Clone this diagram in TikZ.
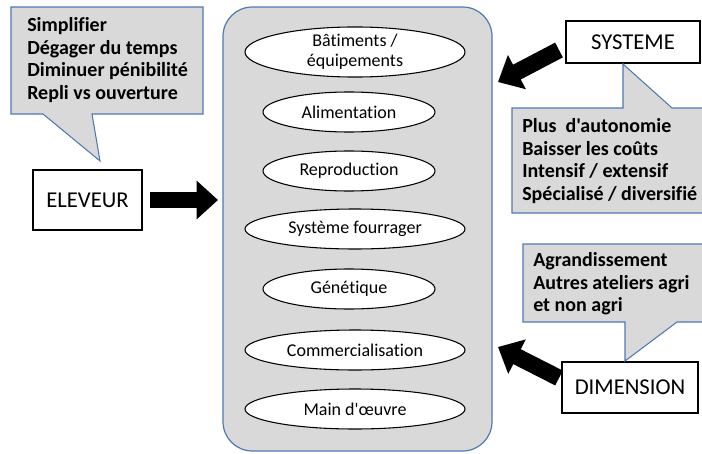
\documentclass[tikz,border=0pt]{standalone}
\usepackage{fontspec}
\newfontfamily\carl{Carlito}[Ligatures={NoCommon,NoContextual}]
\usetikzlibrary{arrows.meta,shapes.geometric}
\definecolor{boxgray}{HTML}{D9D9D9}
\definecolor{edgeblue}{HTML}{5079B0}
\begin{document}
\begin{tikzpicture}[x=0.75pt,y=-0.75pt,
  mainbox/.style={draw=edgeblue,line width=0.9pt,fill=boxgray,rounded corners=22pt,inner sep=0pt},
  ell/.style={draw=black,line width=0.8pt,fill=white,ellipse,inner sep=0pt,align=center,
    font=\carl\fontsize{13.5}{15}\selectfont},
  wideell/.style={ell,minimum width=165pt,minimum height=30pt},
  narrowell/.style={ell,minimum width=129pt,minimum height=30pt},
  actor/.style={draw=black,line width=1pt,fill=white,inner sep=0pt,font=\carl\fontsize{17}{20}\selectfont},
  callshape/.style={draw=edgeblue,line width=0.8pt,fill=boxgray},
  calltext/.style={align=left,inner sep=0pt,font=\carl\bfseries\fontsize{15}{17}\selectfont},
  bigarrow/.style={line width=12.5pt,-{Triangle[length=16pt,width=28pt]}}
]
\useasboundingbox (0,0) rectangle (702,453);

% main rounded container
\node[mainbox,minimum width=201.75pt,minimum height=333pt] (main) at (357.5,229) {};

% ellipses
\node[wideell,minimum height=37pt] (e1) at (355,52) {Bâtiments /\\équipements};
\node[narrowell] (e2) at (349,112) {Alimentation};
\node[narrowell] (e3) at (349,171) {Reproduction};
\node[wideell] (e4) at (355,229) {Système fourrager};
\node[narrowell] (e5) at (349,289) {Génétique};
\node[wideell] (e6) at (355,350) {Commercialisation};
\node[wideell] (e7) at (355,409) {Main d'œuvre};

% actor boxes
\node[actor,minimum width=81.75pt,minimum height=45pt] (elev) at (87.5,200) {ELEVEUR};
\node[actor,minimum width=100.5pt,minimum height=31.5pt] (sys) at (633,42) {SYSTEME};
\node[actor,minimum width=102pt,minimum height=38.25pt] (dim) at (630,387.5) {DIMENSION};

% callouts
\filldraw[callshape] (11,7) -- (203,7) -- (203,114) -- (92,114) -- (100,161) -- (43,114) -- (11,114) -- cycle;
\node[calltext,anchor=west] (c1) at (27,60) {Simplifier\\Dégager du temps\\Diminuer pénibilité\\Repli vs ouverture};

\filldraw[callshape] (702,108) -- (672,108) -- (623,64) -- (623,108) -- (512,108) -- (512,213) -- (702,213);
\node[calltext,anchor=west] (c2) at (522,161) {Plus~ d'autonomie\\Baisser les coûts\\Intensif / extensif\\Spécialisé / diversifié};

\filldraw[callshape] (702,244) -- (523,244) -- (523,322) -- (625,322) -- (625,361) -- (677,322) -- (702,322);
\node[calltext,anchor=west] (c3) at (533,284) {Agrandissement\\Autres ateliers agri\\et non agri};

% arrows
\coordinate (elevA) at (150,200);
\coordinate (elevB) at (218,200);
\draw[bigarrow] (elevA) -- (elevB);
\coordinate (sysA) at (559,50);
\coordinate (sysB) at (498,82);
\draw[bigarrow] (sysA) -- (sysB);
\coordinate (dimA) at (559,378);
\coordinate (dimB) at (498,347);
\draw[bigarrow] (dimA) -- (dimB);
\end{tikzpicture}
\end{document}
